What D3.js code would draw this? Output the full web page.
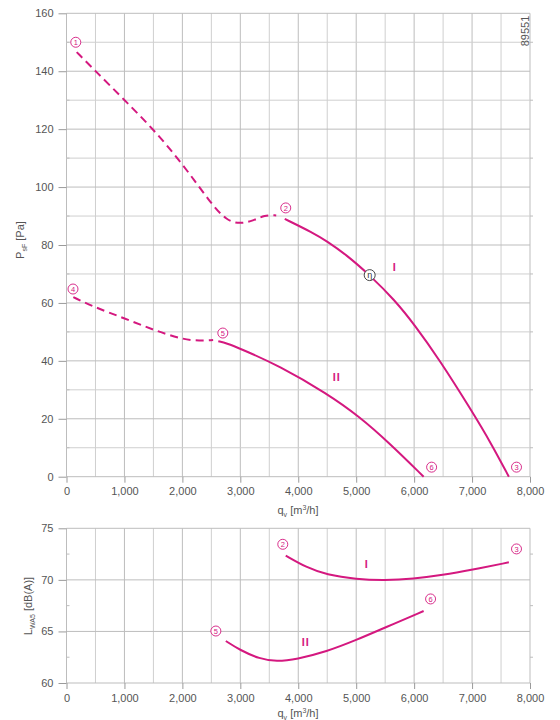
<!DOCTYPE html>
<html>
<head>
<meta charset="utf-8">
<script src="https://cdn.jsdelivr.net/npm/d3@7"></script>
<style>
  body { margin: 0; background: #fff; }
  svg { font-family: "Liberation Sans", Arial, sans-serif; }
  .tick text { fill: #555; font-size: 11px; }
  .curve { fill: none; stroke: #d4187f; stroke-width: 2; }
  .dashed { stroke-dasharray: 8,5; }
</style>
</head>
<body>
<script>
// flow rate ticks (shared by both charts)
var flowTicks = [0, 1000, 2000, 3000, 4000, 5000, 6000, 7000, 8000];
var pressureTicks = [0, 20, 40, 60, 80, 100, 120, 140, 160];
var noiseTicks = [60, 65, 70, 75];

// pressure curves [q, p]
var pressureI_dashed = [[176,146.6],[503,140],[1003,130],[1497,120],[1997,108.2],[2491,94.4],
                        [2762,88.4],[2991,87.3],[3221,88.3],[3420,90.4],[3620,90.2]];
var pressureI = [[3767,89],[4255,84.2],[4486,81.4],[4831,76.6],[5233,69.6],[5664,61],
                 [6009,52.4],[6440,40.3],[6986,23],[7330,11.5],[7635,0]];
var pressureII_dashed = [[118,62],[463,58.7],[997,54.7],[1497,50.7],[1997,47.4],[2302,46.9],[2531,47.2]];
var pressureII = [[2620,46.8],[2762,46.1],[2991,44.3],[3681,38.2],[4486,28.8],[5060,20.7],
                  [5578,11.5],[6164,0]];

// noise curves [q, L]
var noiseI = [[3784,72.35],[4141,71.2],[4486,70.5],[5003,70.06],[5491,69.96],[5980,70.09],
              [6497,70.47],[6986,70.96],[7635,71.7]];
var noiseII = [[2750,64.07],[2991,63.2],[3336,62.33],[3624,62.07],[3969,62.3],[4486,63.04],
               [5003,64.17],[5491,65.36],[6164,66.98]];

// operating point markers
var pressureMarks = [[1,160,150],[2,3784,92.8],[3,7767,3.3],
                     [4,112,64.8],[5,2698,49.6],[6,6302,3.3]];
var noiseMarks = [[2,3733,73.45],[3,7767,73.0],[5,2578,65.04],[6,6284,68.15]];
var pressureCurveNames = [['I',5664,72.4],['II',4664,34.4]];
var noiseCurveNames = [['I',5181,71.5],['II',4129,64.0]];
var etaPoint = [5233, 69.6];

const WIDTH = 560;
const HEIGHT = 720;
const LEFT = 66.5;
const RIGHT = 530;
const PINK = '#d4187f';

var xScale = d3.scaleLinear().domain([0, 8000]).range([LEFT, RIGHT]);
var pScale = d3.scaleLinear().domain([0, 160]).range([476.7, 13.3]);
var nScale = d3.scaleLinear().domain([60, 75]).range([683, 528.3]);

var svg = d3.select('body').append('svg')
  .attr('width', WIDTH)
  .attr('height', HEIGHT);

var fmt = d3.format(',');

var drawPanel = function(yScale, yMinor, yMajor, gridY){
  var g = svg.append('g');
  var y0 = yScale.range()[0], y1 = yScale.range()[1];
  // vertical grid every 500
  g.selectAll('line.vx').data(d3.range(0, 8001, 500)).enter().append('line')
    .attr('x1', function(d){return xScale(d);}).attr('x2', function(d){return xScale(d);})
    .attr('y1', y1).attr('y2', y0)
    .attr('stroke', function(d){return d % 1000 === 0 ? '#bdbdbd' : '#cfcfcf';})
    .attr('stroke-width', 1);
  // horizontal grid
  g.selectAll('line.hy').data(gridY).enter().append('line')
    .attr('x1', LEFT).attr('x2', RIGHT)
    .attr('y1', function(d){return yScale(d);}).attr('y2', function(d){return yScale(d);})
    .attr('stroke', function(d){return yMajor.indexOf(d) >= 0 ? '#bdbdbd' : '#cfcfcf';})
    .attr('stroke-width', 1);
  // small stubs at minor levels
  g.selectAll('line.rs').data(yMinor).enter().append('line')
    .attr('x1', RIGHT).attr('x2', RIGHT + 3)
    .attr('y1', function(d){return yScale(d);}).attr('y2', function(d){return yScale(d);})
    .attr('stroke', '#bdbdbd');
  g.selectAll('line.ls').data(yMinor).enter().append('line')
    .attr('x1', LEFT).attr('x2', LEFT + 3)
    .attr('y1', function(d){return yScale(d);}).attr('y2', function(d){return yScale(d);})
    .attr('stroke', '#bdbdbd');

  var xAxis = d3.axisBottom(xScale).tickValues(flowTicks).tickSize(6).tickPadding(5).tickFormat(fmt);
  var yAxis = d3.axisLeft(yScale).tickValues(yMajor).tickSize(8).tickPadding(5);
  var xa = svg.append('g').attr('transform', 'translate(0,' + y0 + ')').call(xAxis);
  var ya = svg.append('g').attr('transform', 'translate(' + LEFT + ',0)').call(yAxis);
  [xa, ya].forEach(function(a){
    a.select('.domain').remove();
    a.selectAll('.tick line').attr('stroke', '#9a9a9a');
    a.selectAll('.tick text').attr('fill', '#555').style('font-size', '11px');
  });
};

var line = function(yScale){
  return d3.line()
    .x(function(d){return xScale(d[0]);})
    .y(function(d){return yScale(d[1]);})
    .curve(d3.curveBasis);
};

var drawCurve = function(data, yScale, dashed){
  svg.append('path')
    .attr('class', dashed ? 'curve dashed' : 'curve')
    .attr('d', line(yScale)(data));
};

var drawMarks = function(marks, yScale){
  var m = svg.append('g').selectAll('g').data(marks).enter().append('g')
    .attr('transform', function(d){return 'translate(' + xScale(d[1]) + ',' + yScale(d[2]) + ')';});
  m.append('circle').attr('r', 5).attr('fill', '#fff').attr('stroke', PINK).attr('stroke-width', 0.9);
  m.append('text')
    .attr('text-anchor', 'middle').attr('dy', '0.35em')
    .attr('fill', PINK).style('font-size', '7.5px')
    .text(function(d){return d[0];});
};

var drawNames = function(names, yScale){
  svg.append('g').selectAll('text').data(names).enter().append('text')
    .attr('x', function(d){return xScale(d[1]);})
    .attr('y', function(d){return yScale(d[2]);})
    .attr('dy', '0.35em').attr('text-anchor', 'middle')
    .attr('fill', PINK).style('font-size', '11px').style('font-weight', 'bold')
    .style('letter-spacing', '1px')
    .text(function(d){return d[0];});
};

var renderChart = function(){
  // top: pressure
  drawPanel(pScale, d3.range(10, 160, 20), pressureTicks, d3.range(0, 161, 10));
  drawCurve(pressureI_dashed, pScale, true);
  drawCurve(pressureI, pScale, false);
  drawCurve(pressureII_dashed, pScale, true);
  drawCurve(pressureII, pScale, false);
  drawMarks(pressureMarks, pScale);
  drawNames(pressureCurveNames, pScale);

  var eta = svg.append('g')
    .attr('transform', 'translate(' + xScale(etaPoint[0]) + ',' + pScale(etaPoint[1]) + ')');
  eta.append('circle').attr('r', 5.5).attr('fill', '#fff').attr('stroke', '#333').attr('stroke-width', 0.9);
  eta.append('text').attr('text-anchor', 'middle').attr('dy', '0.3em')
    .attr('fill', '#333').style('font-size', '9px').text('\u03b7');

  // bottom: noise
  drawPanel(nScale, [62.5, 67.5, 72.5], noiseTicks, noiseTicks);
  drawCurve(noiseI, nScale, false);
  drawCurve(noiseII, nScale, false);
  drawMarks(noiseMarks, nScale);
  drawNames(noiseCurveNames, nScale);

  // axis titles
  var qLabel = function(y){
    var t = svg.append('text').attr('x', 298).attr('y', y).attr('text-anchor', 'middle')
      .attr('fill', '#555').style('font-size', '11px');
    t.append('tspan').text('q');
    t.append('tspan').attr('dy', 3).style('font-size', '7px').text('v');
    t.append('tspan').attr('dy', -3).text(' [m');
    t.append('tspan').attr('dy', -4).style('font-size', '7px').text('3');
    t.append('tspan').attr('dy', 4).text('/h]');
  };
  qLabel(514);
  qLabel(717);

  var pt = svg.append('text').attr('transform', 'translate(24,240) rotate(-90)')
    .attr('text-anchor', 'middle').attr('fill', '#555').style('font-size', '11px');
  pt.append('tspan').text('P');
  pt.append('tspan').attr('dy', 3).style('font-size', '7px').text('sF');
  pt.append('tspan').attr('dy', -3).text(' [Pa]');

  var lt = svg.append('text').attr('transform', 'translate(32,606) rotate(-90)')
    .attr('text-anchor', 'middle').attr('fill', '#555').style('font-size', '11px');
  lt.append('tspan').text('L');
  lt.append('tspan').attr('dy', 3).style('font-size', '7px').text('WA5');
  lt.append('tspan').attr('dy', -3).text(' [dB(A)]');

  svg.append('text').attr('transform', 'translate(525,31) rotate(-90)')
    .attr('text-anchor', 'middle').attr('dy', '0.35em')
    .attr('fill', '#555').style('font-size', '11px').text('89551');
};

renderChart();
</script>
</body>
</html>
